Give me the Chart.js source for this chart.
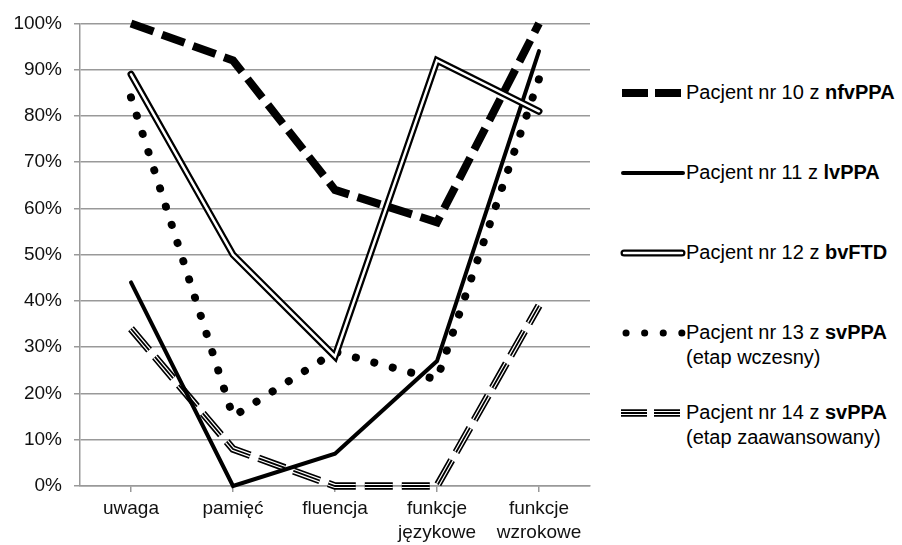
<!doctype html>
<html>
<head>
    <meta charset="utf-8">
    <title>Pacjenci</title>
    <style>
        body { margin: 0; background: #fff; font-family: "Liberation Sans", Arial, sans-serif; }
        .wrap { position: relative; width: 902px; height: 545px; }
        .chart { position: absolute; left: 0; top: 0; width: 610px; height: 545px; }
        .legend { position: absolute; left: 620px; top: 0; }
        .legend__item { position: absolute; left: 0; width: 290px; font-size: 20px; line-height: 25px; color: #000; }
        .legend__item svg { position: absolute; left: 0; top: 5px; }
        .legend__item span { position: absolute; left: 66px; top: 0; white-space: nowrap; }
    </style>
    <script src="https://cdn.jsdelivr.net/npm/chart.js@4/dist/chart.umd.min.js"></script>
</head>
<body>
<div class="wrap">
    <div class="chart"><canvas id="chart"></canvas></div>
    <div class="legend">
        <div class="legend__item" style="top:80px">
            <svg width="66" height="16"><line x1="2" y1="8" x2="64" y2="8" stroke="#000" stroke-width="8" stroke-dasharray="26,7"/></svg>
            <span>Pacjent nr 10 z <b>nfvPPA</b></span>
        </div>
        <div class="legend__item" style="top:160px">
            <svg width="66" height="16"><line x1="3" y1="8" x2="63" y2="8" stroke="#000" stroke-width="4" stroke-linecap="round"/></svg>
            <span>Pacjent nr 11 z <b>lvPPA</b></span>
        </div>
        <div class="legend__item" style="top:240px">
            <svg width="66" height="16"><line x1="4" y1="8" x2="62" y2="8" stroke="#000" stroke-width="7" stroke-linecap="round"/><line x1="4" y1="8" x2="62" y2="8" stroke="#fff" stroke-width="2.5" stroke-linecap="round"/></svg>
            <span>Pacjent nr 12 z <b>bvFTD</b></span>
        </div>
        <div class="legend__item" style="top:320px">
            <svg width="66" height="16"><line x1="6" y1="8" x2="62" y2="8" stroke="#000" stroke-width="7" stroke-linecap="round" stroke-dasharray="0.1,18.5"/></svg>
            <span>Pacjent nr 13 z <b>svPPA</b><br>(etap wczesny)</span>
        </div>
        <div class="legend__item" style="top:400px">
            <svg width="66" height="16"><g stroke-dasharray="26,7"><line x1="1" y1="8" x2="64" y2="8" stroke="#000" stroke-width="7.5"/><line x1="1" y1="8" x2="64" y2="8" stroke="#fff" stroke-width="4.2"/><line x1="1" y1="8" x2="64" y2="8" stroke="#000" stroke-width="1.8"/></g></svg>
            <span>Pacjent nr 14 z <b>svPPA</b><br>(etap zaawansowany)</span>
        </div>
    </div>
</div>
<script>
    "use strict";

    // categories and values (percent)
    let categories = ["uwaga", "pamięć", "fluencja", ["funkcje", "językowe"], ["funkcje", "wzrokowe"]];
    let patient10 = [100, 92, 64, 57, 100];
    let patient11 = [44, 0, 7, 27, 94];
    let patient12 = [89, 50, 28, 92, 81];
    let patient13 = [84, 15, 29, 23, 88];
    let patient14 = [34, 8, 0, 0, 39];

    let yTicks = [0, 10, 20, 30, 40, 50, 60, 70, 80, 90, 100];

    let base = {
        fill: false,
        pointRadius: 0,
        pointHoverRadius: 0,
        tension: 0,
    };

    let dash14 = [28, 9];

    let datasets = [
        // patient 14: triple dashed line (black / white / black)
        Object.assign({}, base, {
            label: "Pacjent nr 14 (a)", data: patient14, borderColor: "#000",
            borderWidth: 7.5, borderDash: dash14, borderCapStyle: "butt", order: 10,
        }),
        Object.assign({}, base, {
            label: "Pacjent nr 14 (b)", data: patient14, borderColor: "#fff",
            borderWidth: 4.2, borderDash: dash14, borderCapStyle: "butt", order: 9,
        }),
        Object.assign({}, base, {
            label: "Pacjent nr 14", data: patient14, borderColor: "#000",
            borderWidth: 1.8, borderDash: dash14, borderCapStyle: "butt", order: 8,
        }),
        Object.assign({}, base, {
            label: "Pacjent nr 13", data: patient13, borderColor: "#000",
            borderWidth: 8, borderDash: [0.1, 19], borderCapStyle: "round", order: 7,
        }),
        Object.assign({}, base, {
            label: "Pacjent nr 11", data: patient11, borderColor: "#000",
            borderWidth: 4, borderCapStyle: "round", borderJoinStyle: "miter", order: 6,
        }),
        // patient 12: double solid line
        Object.assign({}, base, {
            label: "Pacjent nr 12 (tło)", data: patient12, borderColor: "#000",
            borderWidth: 7, borderCapStyle: "round", borderJoinStyle: "miter", order: 5,
        }),
        Object.assign({}, base, {
            label: "Pacjent nr 12", data: patient12, borderColor: "#fff",
            borderWidth: 2.5, borderCapStyle: "round", borderJoinStyle: "miter", order: 4,
        }),
        Object.assign({}, base, {
            label: "Pacjent nr 10", data: patient10, borderColor: "#000",
            borderWidth: 8, borderDash: [24, 9], borderCapStyle: "butt", borderJoinStyle: "miter", order: 3,
        }),
    ];

    let chart = new Chart(document.getElementById("chart"), {
        type: "line",
        data: { labels: categories, datasets: datasets },
        options: {
            responsive: true,
            maintainAspectRatio: false,
            animation: false,
            clip: false,
            layout: { padding: { top: 18, right: 20, left: 0, bottom: 0 } },
            plugins: { legend: { display: false }, tooltip: { enabled: false } },
            scales: {
                x: {
                    offset: true,
                    afterFit: function (scale) { scale.height = 59; },
                    grid: { display: true, drawOnChartArea: false, drawTicks: true, tickLength: 6, offset: false, color: "#999", lineWidth: 1.5 },
                    border: { display: true, color: "#999", width: 1.5 },
                    ticks: { color: "#111", font: { family: "Liberation Sans", size: 19, lineHeight: 1.25 }, padding: 5, maxRotation: 0, autoSkip: false },
                },
                y: {
                    min: 0,
                    max: 100,
                    afterFit: function (scale) { scale.width = 80; },
                    afterBuildTicks: function (scale) { scale.ticks = yTicks.map(v => ({ value: v })); },
                    grid: { color: "#999", lineWidth: 1.5, drawTicks: true, tickLength: 6 },
                    border: { display: true, color: "#999", width: 1.5 },
                    ticks: { color: "#111", font: { family: "Liberation Sans", size: 19 }, padding: 12, callback: v => v + "%" },
                },
            },
        },
    });
</script>
</body>
</html>
